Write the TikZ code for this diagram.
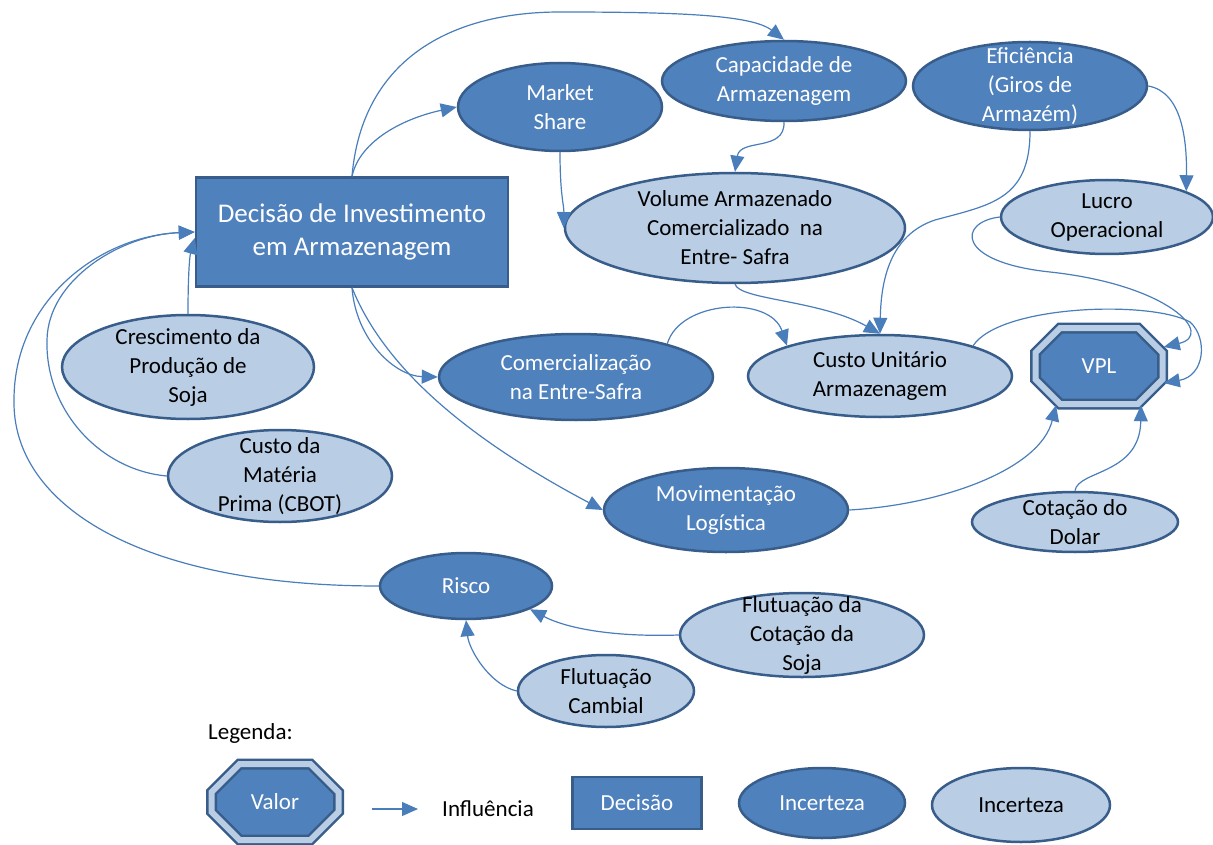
\documentclass[tikz,border=0pt]{standalone}
\usepackage{fontspec}
\setmainfont{Carlito}
\usetikzlibrary{arrows.meta,shapes.geometric,shapes.misc}
\definecolor{dkblue}{HTML}{4F81BD}
\definecolor{dkline}{HTML}{385D8A}
\definecolor{ltblue}{HTML}{B9CDE5}
\definecolor{conblue}{HTML}{4A7EBB}

\begin{document}
\begin{tikzpicture}[x=1pt,y=-1pt,
  every node/.style={font=\fontsize{23}{29}\selectfont},
  dunc/.style={ellipse,draw=dkline,line width=2.5pt,fill=dkblue,text=white,inner sep=0pt},
  lunc/.style={ellipse,draw=dkline,line width=2.5pt,fill=ltblue,text=black,inner sep=0pt},
  wtxt/.style={text=white,align=center,inner sep=0pt},
  btxt/.style={text=black,align=center,inner sep=0pt},
  dcsn/.style={rectangle,draw=dkline,line width=2.5pt,fill=dkblue,text=white,align=center,inner sep=0pt},
  valor/.style={chamfered rectangle,chamfered rectangle xsep=20pt,chamfered rectangle ysep=20pt,
    draw=dkline,line width=2.5pt,double=ltblue,double distance=6pt,fill=dkblue,text=white,
    minimum width=127pt,minimum height=76pt,inner sep=0pt},
  con/.style={draw=conblue,line width=1.2pt,-{Triangle[length=16pt,width=14pt]}}]
\useasboundingbox (0,0) rectangle (1213,845);

\node[dcsn,minimum width=312pt,minimum height=109pt,font=\fontsize{27}{33}\selectfont] (dec) at (352,232) {Decisão de Investimento\\em Armazenagem};
\node[dunc,minimum width=204pt,minimum height=88pt,label={[wtxt]center:Market\\Share}] (mkt) at (560,107) {};
\node[dunc,minimum width=244pt,minimum height=80pt,label={[wtxt]center:Capacidade de\\Armazenagem}] (cap) at (784,81) {};
\node[dunc,minimum width=234pt,minimum height=88pt,label={[wtxt]center:Eficiência\\(Giros de\\Armazém)}] (eff) at (1030,86) {};
\node[lunc,minimum width=340pt,minimum height=110pt,label={[btxt]center:Volume Armazenado\\Comercializado~ na\\Entre- Safra}] (vol) at (735,228) {};
\node[lunc,minimum width=212pt,minimum height=74pt,label={[btxt]center:Lucro\\Operacional}] (luc) at (1107,217) {};
\node[lunc,minimum width=252pt,minimum height=104pt,label={[btxt]center:Crescimento da\\Produção de\\Soja}] (cre) at (188,367) {};
\node[lunc,minimum width=224pt,minimum height=92pt,label={[btxt]center:Custo da\\Matéria\\Prima (CBOT)}] (cmp) at (280,476) {};
\node[dunc,minimum width=274pt,minimum height=86pt,label={[wtxt]center:Comercialização\\na Entre-Safra}] (com) at (576,377) {};
\node[lunc,minimum width=264pt,minimum height=82pt,label={[btxt]center:Custo Unitário\\Armazenagem}] (cua) at (880,376) {};
\node[valor] (vpl) at (1099,366) {VPL};
\node[dunc,minimum width=244pt,minimum height=84pt,label={[wtxt]center:Movimentação\\Logística}] (mov) at (726,510) {};
\node[lunc,minimum width=206pt,minimum height=60pt,label={[btxt]center:Cotação do\\Dolar}] (dol) at (1075,522) {};
\node[dunc,minimum width=172pt,minimum height=66pt,label={[wtxt]center:Risco}] (ris) at (466,586) {};
\node[lunc,minimum width=244pt,minimum height=84pt,label={[btxt]center:Flutuação da\\Cotação da\\Soja}] (flc) at (802,635) {};
\node[lunc,minimum width=176pt,minimum height=72pt,label={[btxt]center:Flutuação\\Cambial}] (flb) at (606,691) {};

% influencias
\draw[con] (dec.north) .. controls (362,60) and (450,12) .. (560,12) .. controls (680,12) and (752,15) .. (cap.north);
\draw[con] (dec.north) .. controls (360,140) and (405,118) .. (mkt.west);
\draw[con] (mkt.south) .. controls (560,195) and (564,205) .. (vol.west);
\draw[con] (cap.south) .. controls (785,152) and (740,138) .. (vol.north);
\draw[con] (eff.east) .. controls (1182,92) and (1187,140) .. (luc.18);
\draw[con] (eff.south) .. controls (1030,200) and (990,205) .. (935,220) .. controls (890,235) and (881,280) .. (cua.north);
\draw[con] (vol.south) .. controls (740,300) and (820,300) .. (cua.north);
\draw[con] (com.20) .. controls (680,300) and (770,295) .. (cua.162);
\draw[con] (cua.18) .. controls (1000,305) and (1150,300) .. (1190,322) .. controls (1208,338) and (1205,376) .. ([yshift=-17pt]vpl.east);
\draw[con] (luc.west) .. controls (958,222) and (955,262) .. (1050,272) .. controls (1170,285) and (1215,335) .. ([yshift=19pt]vpl.east);
\draw[con] (dec.south) .. controls (356,340) and (395,376) .. (com.west);
\draw[con] (dec.south) .. controls (388,377) and (484,447) .. (mov.west);
\draw[con] (mov.east) .. controls (940,505) and (1040,470) .. ([xshift=-43pt]vpl.south);
\draw[con] (dol.north) .. controls (1078,470) and (1140,475) .. ([xshift=42pt]vpl.south);
\draw[con] (cre.north) .. controls (188,270) and (190,255) .. ([yshift=-6pt]dec.west);
\draw[con] (cmp.west) .. controls (100,470) and (45,410) .. (47,340) .. controls (48,280) and (120,235) .. (dec.west);
\draw[con] (ris.west) .. controls (140,586) and (12,505) .. (14,400) .. controls (14,300) and (100,236) .. (dec.west);
\draw[con] (flc.west) .. controls (620,637) and (570,630) .. (ris.-20);
\draw[con] (flb.west) .. controls (490,685) and (469,650) .. (ris.south);

% legenda
\node[anchor=west,inner sep=0pt] (leg) at (208,733) {Legenda:};
\node[valor] (val) at (275,802) {Valor};
\coordinate (lga) at (372,809);
\coordinate (lgb) at (418,809);
\draw[con] (lga) -- (lgb);
\node[inner sep=0pt] (inf) at (488,809) {Influência};
\node[dcsn,minimum width=129pt,minimum height=52pt] (ldec) at (637,803) {Decisão};
\node[dunc,minimum width=166pt,minimum height=70pt] (linc) at (822,803) {Incerteza};
\node[lunc,minimum width=178pt,minimum height=74pt] (linl) at (1021,805) {Incerteza};
\end{tikzpicture}
\end{document}
